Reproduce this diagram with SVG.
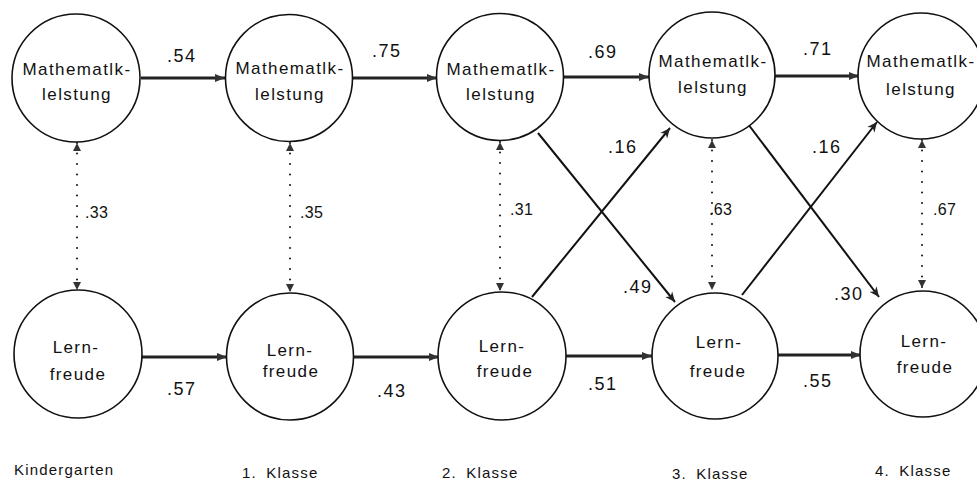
<svg xmlns="http://www.w3.org/2000/svg" width="977" height="481" viewBox="0 0 977 481">
<defs>
<style>
.node{fill:#fff;stroke:#111;stroke-width:1.6}
.nt{font-family:"Liberation Sans",Arial,sans-serif;font-size:17px;letter-spacing:1.4px;fill:#111;text-anchor:middle}
.el{font-family:"Liberation Sans",Arial,sans-serif;font-size:18px;letter-spacing:1.5px;fill:#111}
.dl{font-family:"Liberation Sans",Arial,sans-serif;font-size:16px;letter-spacing:0.3px;fill:#111}
.cl{font-family:"Liberation Sans",Arial,sans-serif;font-size:15px;letter-spacing:1.2px;word-spacing:4px;fill:#111}
.h{stroke:#222;stroke-width:3;fill:none;marker-end:url(#ah)}
.d{stroke:#111;stroke-width:2;fill:none;marker-end:url(#ad)}
.dot{stroke:#111;stroke-width:2;stroke-linecap:round;stroke-dasharray:0 10.5;fill:none;marker-start:url(#as);marker-end:url(#as)}
</style>
<marker id="ah" markerUnits="userSpaceOnUse" markerWidth="12" markerHeight="10" refX="10" refY="5" orient="auto"><path d="M0,1 L10,5 L0,9 Z" fill="#333"/></marker>
<marker id="ad" markerUnits="userSpaceOnUse" markerWidth="12" markerHeight="10" refX="10" refY="5" orient="auto"><path d="M0,0.5 L10,5 L0,9.5 L3,5 Z" fill="#222"/></marker>
<marker id="as" markerUnits="userSpaceOnUse" markerWidth="10" markerHeight="10" refX="8" refY="4" orient="auto-start-reverse"><path d="M0,0 L8,4 L0,8 Z" fill="#333"/></marker>
</defs>
<rect width="977" height="481" fill="#fff"/>

<g id="connectors">
<line class="h" x1="141" y1="78" x2="225" y2="78"/>
<line class="h" x1="352" y1="78" x2="437" y2="78"/>
<line class="h" x1="563" y1="77" x2="649" y2="77"/>
<line class="h" x1="775" y1="76" x2="859" y2="76"/>
<line class="h" x1="142" y1="357" x2="227" y2="357"/>
<line class="h" x1="353" y1="357" x2="439" y2="357"/>
<line class="h" x1="566" y1="356" x2="652" y2="356"/>
<line class="h" x1="778" y1="355" x2="861" y2="355"/>
<line class="d" x1="538" y1="133" x2="675" y2="302"/>
<line class="d" x1="532" y1="297" x2="670" y2="128"/>
<line class="d" x1="748" y1="124" x2="879" y2="297"/>
<line class="d" x1="742" y1="295" x2="877" y2="122"/>
<line class="dot" x1="77" y1="143" x2="77" y2="290"/>
<line class="dot" x1="290" y1="143" x2="290" y2="292"/>
<line class="dot" x1="500" y1="142" x2="500" y2="291"/>
<line class="dot" x1="712" y1="140" x2="712" y2="290"/>
<line class="dot" x1="922" y1="140" x2="922" y2="288"/>
<text class="el" x="167" y="62">.54</text>
<text class="el" x="372" y="57">.75</text>
<text class="el" x="588" y="58">.69</text>
<text class="el" x="803" y="55">.71</text>
<text class="el" x="167" y="395">.57</text>
<text class="el" x="377" y="397">.43</text>
<text class="el" x="588" y="390">.51</text>
<text class="el" x="803" y="387">.55</text>
<text class="el" x="608" y="153">.16</text>
<text class="el" x="623" y="293">.49</text>
<text class="el" x="812" y="153">.16</text>
<text class="el" x="834" y="300">.30</text>
<text class="dl" x="85" y="218">.33</text>
<text class="dl" x="300" y="218">.35</text>
<text class="dl" x="510" y="215">.31</text>
<text class="dl" x="709" y="215">.63</text>
<text class="dl" x="933" y="215">.67</text>
</g>

<g id="m0"><circle class="node" cx="76" cy="78" r="64"/><text class="nt" x="77" y="75">Mathematlk-</text><text class="nt" x="77" y="100">lelstung</text></g>
<g id="m1"><circle class="node" cx="289" cy="78" r="63.5"/><text class="nt" x="290" y="74">Mathematlk-</text><text class="nt" x="290" y="100">lelstung</text></g>
<g id="m2"><circle class="node" cx="500" cy="77" r="63.5"/><text class="nt" x="501" y="75">Mathematlk-</text><text class="nt" x="501" y="100">lelstung</text></g>
<g id="m3"><circle class="node" cx="712" cy="75" r="63"/><text class="nt" x="713" y="67">Mathematlk-</text><text class="nt" x="713" y="93">lelstung</text></g>
<g id="m4"><circle class="node" cx="921" cy="76" r="63"/><text class="nt" x="921" y="67">Mathematlk-</text><text class="nt" x="921" y="95">lelstung</text></g>

<g id="l0"><circle class="node" cx="78" cy="354" r="64"/><text class="nt" x="76" y="353">Lern-</text><text class="nt" x="78" y="380">freude</text></g>
<g id="l1"><circle class="node" cx="290" cy="356.5" r="63.5"/><text class="nt" x="290" y="356">Lern-</text><text class="nt" x="291" y="377">freude</text></g>
<g id="l2"><circle class="node" cx="502" cy="356" r="64"/><text class="nt" x="502" y="352">Lern-</text><text class="nt" x="505" y="377">freude</text></g>
<g id="l3"><circle class="node" cx="715" cy="356" r="63"/><text class="nt" x="719" y="348">Lern-</text><text class="nt" x="718" y="377">freude</text></g>
<g id="l4"><circle class="node" cx="923" cy="354" r="63"/><text class="nt" x="924" y="347">Lern-</text><text class="nt" x="925" y="373">freude</text></g>

<g id="labels">
<text class="cl" x="14" y="475">Kindergarten</text>
<text class="cl" x="242" y="478">1. Klasse</text>
<text class="cl" x="442" y="478">2. Klasse</text>
<text class="cl" x="672" y="479">3. Klasse</text>
<text class="cl" x="875" y="476">4. Klasse</text>
</g>
</svg>
